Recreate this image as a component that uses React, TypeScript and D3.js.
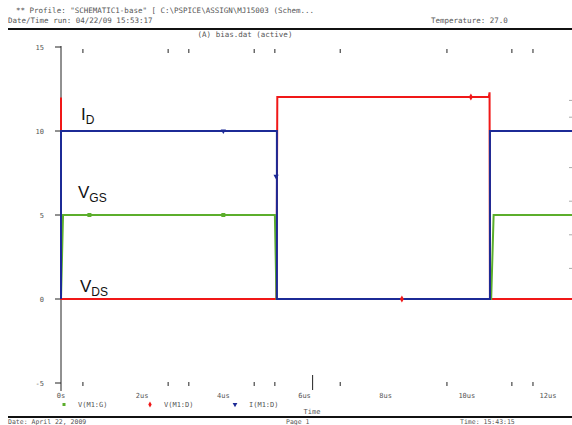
import * as d3 from "d3";
import { useEffect, useRef } from "react";

// x axis (time, us) and y axis values
const timeTicks = [0, 2, 4, 6, 8, 10, 12];
const timeLabels = ["0s", "2us", "4us", "6us", "8us", "10us", "12us"];
const minorTimeTicks = [0.54, 2.64, 3.15, 4.76, 5.27, 6.88, 9.51, 11.11, 11.63];
const yTicks = [15, 10, 5, 0, -5];
const yLabels = ["15", "10", "5", "0", "-5"];

// I(M1:D) - blue
const idTime = [0, 0, 5.32, 5.32, 10.57, 10.57, 12.6];
const idValue = [0, 10, 10, 0, 0, 10, 10];
// V(M1:D) - red
const vdsTime = [0, 0, 5.31, 5.33, 10.54, 10.56, 10.57, 12.6];
const vdsValue = [12, 0, 0, 12.02, 12.02, 12.3, 0, 0];
// V(M1:G) - green
const vgsTime = [0, 0.05, 5.27, 5.31, 10.6, 10.66, 12.6];
const vgsValue = [0, 5, 5, 0, 0, 5, 5];

const legendNames = ["V(M1:G)", "V(M1:D)", "I(M1:D)"];

export default function App() {
  const svgRef = useRef<SVGSVGElement | null>(null);

  useEffect(() => {
    const width = 572;
    const height = 425;
    const svg = d3.select(svgRef.current).attr("width", width).attr("height", height);
    svg.selectAll("*").remove();

    const x = d3.scaleLinear().domain([0, 12]).range([61, 548]);
    const y = d3.scaleLinear().domain([-5, 15]).range([383, 47]);

    const textFont = "'DejaVu Sans Mono', monospace";
    const grey = "#555";

    // header
    svg.append("text").attr("x", 16).attr("y", 13).attr("font-family", textFont).attr("font-size", 7.5).attr("fill", grey)
      .text('** Profile: "SCHEMATIC1-base"  [ C:\\PSPICE\\ASSIGN\\MJ15003 (Schem...');
    svg.append("text").attr("x", 8).attr("y", 23).attr("font-family", textFont).attr("font-size", 7.5).attr("fill", grey)
      .text("Date/Time run: 04/22/09 15:53:17");
    svg.append("text").attr("x", 431).attr("y", 23).attr("font-family", textFont).attr("font-size", 7.5).attr("fill", grey)
      .text("Temperature: 27.0");
    svg.append("line").attr("x1", 8).attr("x2", 572).attr("y1", 29).attr("y2", 29).attr("stroke", "#111").attr("stroke-width", 2);
    svg.append("text").attr("x", 245).attr("y", 37).attr("text-anchor", "middle").attr("font-family", textFont).attr("font-size", 7.5).attr("fill", grey)
      .text("(A) bias.dat (active)");

    // left axis
    svg.append("line").attr("x1", 61).attr("x2", 61).attr("y1", 46).attr("y2", 391).attr("stroke", "#222").attr("stroke-width", 1);
    yTicks.forEach((v, i) => {
      svg.append("line").attr("x1", 55).attr("x2", 61).attr("y1", y(v)).attr("y2", y(v)).attr("stroke", "#222");
      svg.append("text").attr("x", 44).attr("y", y(v) + 3).attr("text-anchor", "end").attr("font-family", textFont)
        .attr("font-size", 7).attr("fill", grey).text(yLabels[i]);
    });
    // right axis small ticks
    [12, 11, 8, 6, 4, 2].forEach((v) => {
      svg.append("line").attr("x1", 569).attr("x2", 572).attr("y1", y(v) + 3).attr("y2", y(v) + 3).attr("stroke", "#aaa");
    });

    // time ticks, top and bottom
    minorTimeTicks.forEach((t) => {
      svg.append("line").attr("x1", x(t)).attr("x2", x(t)).attr("y1", 49).attr("y2", 53).attr("stroke", "#222");
      svg.append("line").attr("x1", x(t)).attr("x2", x(t)).attr("y1", 382).attr("y2", 386).attr("stroke", "#222");
    });
    svg.append("line").attr("x1", x(6.2)).attr("x2", x(6.2)).attr("y1", 375).attr("y2", 390).attr("stroke", "#222");
    timeTicks.forEach((t, i) => {
      svg.append("text").attr("x", x(t)).attr("y", 398).attr("text-anchor", "middle").attr("font-family", textFont)
        .attr("font-size", 7).attr("fill", grey).text(timeLabels[i]);
    });

    // traces
    const g = svg.append("g");
    const line = d3.line<[number, number]>().x((d) => Math.min(x(d[0]), 572)).y((d) => y(d[1]));
    const drawTrace = (ts: number[], vs: number[], color: string) => {
      g.append("path")
        .attr("d", line(ts.map((t, i) => [t, vs[i]] as [number, number])))
        .attr("fill", "none").attr("stroke", color).attr("stroke-width", 2);
    };
    drawTrace(vdsTime, vdsValue, "#f01818");
    drawTrace(vgsTime, vgsValue, "#5cae2c");
    drawTrace(idTime, idValue, "#1c2a96");

    // markers (sparse, as in the plot)
    g.append("rect").attr("x", x(4) - 2).attr("y", y(5) - 2).attr("width", 4).attr("height", 4).attr("fill", "#5cae2c");
    g.append("rect").attr("x", x(0.7) - 2).attr("y", y(5) - 2).attr("width", 4).attr("height", 4).attr("fill", "#5cae2c");
    g.append("path").attr("d", d3.symbol(d3.symbolDiamond, 14)()).attr("transform", `translate(${x(8.4)},${y(0)})`).attr("fill", "#f01818");
    g.append("path").attr("d", d3.symbol(d3.symbolDiamond, 14)()).attr("transform", `translate(${x(10.1)},${y(12.02)})`).attr("fill", "#f01818");
    g.append("path").attr("d", d3.symbol(d3.symbolTriangle, 12)()).attr("transform", `translate(${x(5.3)},${y(7.3)}) rotate(180)`).attr("fill", "#1c2a96");
    g.append("path").attr("d", d3.symbol(d3.symbolTriangle, 12)()).attr("transform", `translate(${x(4)},${y(10)}) rotate(180)`).attr("fill", "#1c2a96");

    // trace annotations
    const annFont = "'Liberation Sans', Arial, sans-serif";
    const label = (main: string, sub: string, lx: number, ly: number) => {
      const t = svg.append("text").attr("x", lx).attr("y", ly).attr("font-family", annFont).attr("font-size", 17).attr("fill", "#111");
      t.append("tspan").text(main);
      t.append("tspan").attr("font-size", 12).attr("dy", 4).text(sub);
    };
    label("I", "D", 81, 120);
    label("V", "GS", 78, 198);
    label("V", "DS", 80, 292);

    // legend
    const legendX = [64, 150, 235];
    svg.append("rect").attr("x", legendX[0] - 1.5).attr("y", 403).attr("width", 3).attr("height", 3).attr("fill", "#5cae2c");
    svg.append("path").attr("d", d3.symbol(d3.symbolDiamond, 10)()).attr("transform", `translate(${legendX[1]},${404.5})`).attr("fill", "#f01818");
    svg.append("path").attr("d", d3.symbol(d3.symbolTriangle, 10)()).attr("transform", `translate(${legendX[2]},${404.5}) rotate(180)`).attr("fill", "#1c2a96");
    legendNames.forEach((n, i) => {
      svg.append("text").attr("x", legendX[i] + 14).attr("y", 407).attr("font-family", textFont).attr("font-size", 7).attr("fill", grey).text(n);
    });
    svg.append("text").attr("x", 312).attr("y", 414).attr("text-anchor", "middle").attr("font-family", textFont).attr("font-size", 7).attr("fill", grey).text("Time");

    // footer
    svg.append("line").attr("x1", 8).attr("x2", 572).attr("y1", 417).attr("y2", 417).attr("stroke", "#111").attr("stroke-width", 2);
    svg.append("text").attr("x", 8).attr("y", 424).attr("font-family", textFont).attr("font-size", 6.5).attr("fill", grey).text("Date: April 22, 2009");
    svg.append("text").attr("x", 286).attr("y", 424).attr("font-family", textFont).attr("font-size", 6.5).attr("fill", grey).text("Page 1");
    svg.append("text").attr("x", 460).attr("y", 424).attr("font-family", textFont).attr("font-size", 6.5).attr("fill", grey).text("Time: 15:43:15");
  }, []);

  return (
    <svg ref={svgRef} style={{ position: "absolute", left: 0, top: 0, background: "#fff" }}></svg>
  );
}
